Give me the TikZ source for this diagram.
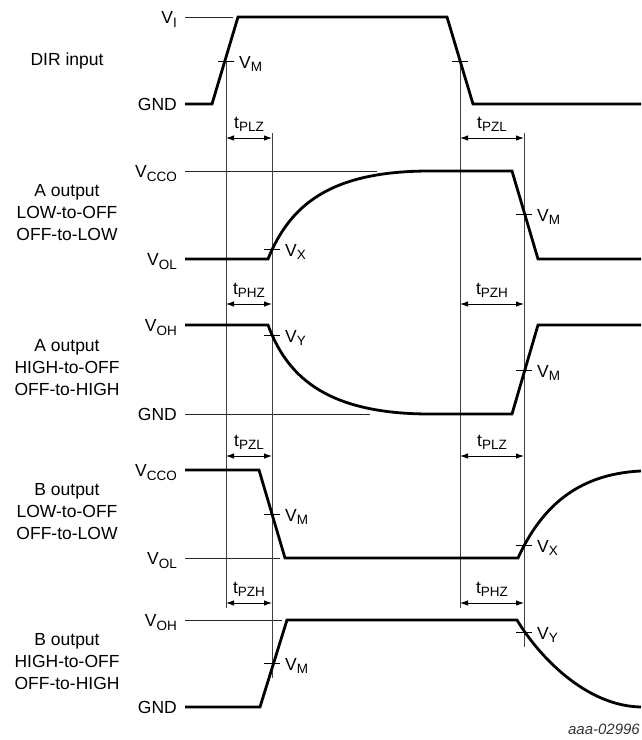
\documentclass[tikz,border=0pt]{standalone}
\usepackage{fontspec}
\setmainfont{Liberation Sans}
\usetikzlibrary{arrows.meta}
\newcommand\sbx[1]{\raisebox{-0.2em}{\fontsize{13.5}{14}\selectfont #1}}
\begin{document}
\begin{tikzpicture}[x=1pt,y=-1pt,
  wave/.style={line width=2.8pt, line join=miter, line cap=butt},
  thinlvl/.style={line width=0.8pt, black!85},
  refline/.style={line width=0.8pt, black!75},
  tickmark/.style={line width=0.8pt},
  dimarrow/.style={line width=0.9pt, {Latex[length=8pt,width=5.5pt]}-{Latex[length=8pt,width=5.5pt]}},
  lvl/.style={anchor=base east, inner sep=0pt, font=\fontsize{17.5}{19}\selectfont},
  sig/.style={anchor=center, align=center, inner sep=0pt, font=\fontsize{17.5}{22}\selectfont},
  vlab/.style={anchor=base west, inner sep=0pt, font=\fontsize{17.5}{19}\selectfont},
  tlab/.style={anchor=base, inner sep=0pt, font=\fontsize{17.5}{19}\selectfont}]
\useasboundingbox (0,0) rectangle (641,740);

% ---- signal names ----
\node[sig] (n0) at (67,61) {DIR input};
\node[sig] (n1) at (67,213) {A output\\LOW-to-OFF\\OFF-to-LOW};
\node[sig] (n2) at (67,368) {A output\\HIGH-to-OFF\\OFF-to-HIGH};
\node[sig] (n3) at (67,512) {B output\\LOW-to-OFF\\OFF-to-LOW};
\node[sig] (n4) at (67,662) {B output\\HIGH-to-OFF\\OFF-to-HIGH};

% ---- level labels ----
\node[lvl] (l0) at (177,23.5) {V\sbx{I}};
\node[lvl] (l1) at (177,110.5) {GND};
\node[lvl] (l2) at (177,177.5) {V\sbx{CCO}};
\node[lvl] (l3) at (177,265.5) {V\sbx{OL}};
\node[lvl] (l4) at (177,331.5) {V\sbx{OH}};
\node[lvl] (l5) at (177,420.5) {GND};
\node[lvl] (l6) at (177,476.5) {V\sbx{CCO}};
\node[lvl] (l7) at (177,564.5) {V\sbx{OL}};
\node[lvl] (l8) at (177,626.5) {V\sbx{OH}};
\node[lvl] (l9) at (177,713.5) {GND};

% ---- thin level lines ----
\draw[thinlvl] (185,17) -- (233,17);
\draw[thinlvl] (185,171) -- (377,171);
\draw[thinlvl] (185,414) -- (370,414);
\draw[thinlvl] (185,558) -- (280,558);
\draw[thinlvl] (185,620) -- (282,620);

% ---- reference vertical lines ----
\coordinate (a1) at (226,61);  \coordinate (a2) at (226,608);
\coordinate (b1) at (272,133); \coordinate (b2) at (272,678);
\coordinate (c1) at (460,61);  \coordinate (c2) at (460,608);
\coordinate (d1) at (524,133); \coordinate (d2) at (524,647);
\draw[refline] (a1) -- (a2);
\draw[refline] (b1) -- (b2);
\draw[refline] (c1) -- (c2);
\draw[refline] (d1) -- (d2);

% ---- waveforms ----
\draw[wave] (185,104) -- (212,104) -- (238,17) -- (447,17) -- (473,104) -- (641,104);
\draw[wave] (185,259) -- (268,259) .. controls (290,205) and (330,171) .. (430,171) -- (512,171) -- (538,259) -- (641,259);
\draw[wave] (185,325) -- (268,325) .. controls (286,373) and (322,414) .. (430,414) -- (512,414) -- (538,325) -- (641,325);
\draw[wave] (185,470) -- (259,470) -- (285,558) -- (518,558) .. controls (540,510) and (575,474) .. (641,471);
\draw[wave] (185,707) -- (260,707) -- (287,620) -- (517,620) .. controls (538,655) and (585,706) .. (641,707);

% ---- tick marks ----
\foreach \x/\y in {226/61, 460/61, 272/249, 524/214, 272/335, 524/370, 272/514, 524/545, 272/663, 524/632}
  \draw[tickmark] (\x-8,\y) -- (\x+8,\y);

% ---- crossing labels ----
\node[vlab] (m0) at (239,68) {V\sbx{M}};
\node[vlab] (m1) at (285,256) {V\sbx{X}};
\node[vlab] (m2) at (537,221) {V\sbx{M}};
\node[vlab] (m3) at (285,342) {V\sbx{Y}};
\node[vlab] (m4) at (537,377) {V\sbx{M}};
\node[vlab] (m5) at (285,521) {V\sbx{M}};
\node[vlab] (m6) at (537,552) {V\sbx{X}};
\node[vlab] (m7) at (285,670) {V\sbx{M}};
\node[vlab] (m8) at (537,639) {V\sbx{Y}};

% ---- timing dimensions ----
\foreach \y/\ltxt/\rtxt in {138/PLZ/PZL, 304/PHZ/PZH, 456/PZL/PLZ, 603/PZH/PHZ}{
  \coordinate (p1) at (226,\y); \coordinate (p2) at (272,\y);
  \coordinate (q1) at (460,\y); \coordinate (q2) at (524,\y);
  \draw[dimarrow] (p1) -- (p2);
  \draw[dimarrow] (q1) -- (q2);
  \node[tlab] at (249,\y-10) {t\sbx{\ltxt}};
  \node[tlab] at (492,\y-10) {t\sbx{\rtxt}};
}

\node[anchor=base east, inner sep=0pt, font=\fontsize{15}{16}\itshape, text=black!80] (id) at (640,734) {aaa-02996};
\end{tikzpicture}
\end{document}
